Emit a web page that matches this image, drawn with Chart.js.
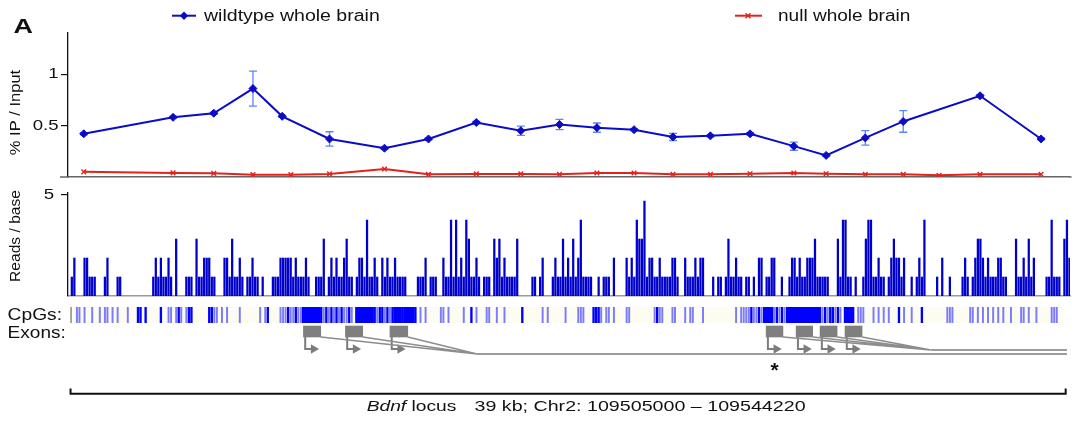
<!DOCTYPE html>
<html>
<head>
<meta charset="utf-8">
<script src="https://cdn.jsdelivr.net/npm/chart.js@4"></script>
<style>
  html, body { margin: 0; padding: 0; background: #fff; }
  #fig { position: relative; width: 1075px; height: 421px; overflow: hidden; background: #fff; }
  #fig canvas { position: absolute; left: 0; }
</style>
</head>
<body>
<div id="fig">
  <canvas id="ip" width="1075" height="185" style="top:0"></canvas>
  <canvas id="reads" width="1075" height="115" style="top:185px"></canvas>
  <canvas id="cpg" width="1075" height="30" style="top:300px"></canvas>
  <canvas id="gene" width="1075" height="103" style="top:318px"></canvas>
</div>
<script>
// positions are kb from the left edge of the plotted window (Bdnf locus, Chr2)
const wtPosKb   = [0.62, 4.13, 5.73, 7.27, 8.42, 10.28, 12.44, 14.17, 16.05, 17.80, 19.32, 20.79, 22.25, 23.78, 25.25, 26.81, 28.53, 29.80, 31.34, 32.83, 35.85, 38.25];
const wtIP      = [0.42, 0.58, 0.62, 0.86, 0.59, 0.37, 0.28, 0.37, 0.53, 0.45, 0.51, 0.48, 0.46, 0.39, 0.40, 0.42, 0.30, 0.21, 0.38, 0.54, 0.79, 0.37];
const wtErr     = [0.01, 0.01, 0.01, 0.17, 0.01, 0.07, 0.01, 0.01, 0.01, 0.045, 0.05, 0.045, 0.01, 0.035, 0.01, 0.01, 0.04, 0.01, 0.07, 0.105, 0.01, 0.01];
const nullPosKb = [0.62, 4.13, 5.73, 7.27, 8.76, 10.28, 12.44, 14.17, 16.05, 17.80, 19.32, 20.79, 22.25, 23.78, 25.25, 26.81, 28.53, 29.80, 31.34, 32.83, 34.24, 35.85, 38.25];
const nullIP    = [0.05, 0.04, 0.036, 0.023, 0.023, 0.03, 0.078, 0.026, 0.03, 0.03, 0.026, 0.039, 0.039, 0.026, 0.026, 0.032, 0.039, 0.032, 0.026, 0.026, 0.016, 0.026, 0.026];
const ipTicks   = [0.5, 1];

// read depth per 0.1 kb bin, in steps of one read level
const readsBinKb = 0.1;
const readsStep = 0.94;
const readsTicks = [5];
const readsProfile = [
  '0120002211', '1000120001', '1000000000', '0001212112', '1030001110',
  '3112221100', '0221311210', '1121101000', '1112222212', '1112100111',
  '3012121123', '1101221411', '2102121121', '1110000111', '2011100211',
  '4141214311', '2101110323', '1211113000', '0011012000', '1211312131',
  '2411110010', '1110200002', '1214335122', '1121111221', '0021112122',
  '0001011013', '1121101101', '0220112200', '1001221211', '2223111110',
  '0031441101', '0013441121', '1012322120', '0101214000', '0102001000',
  '0121012332', '1211122110', '0031121312', '0000114111', '0342'
].join('');

// CpG density per 0.1 kb bin: 0 none, 1 single, 2 a few, 3 dense
const cpgProfile = [
  '0001101001', '0010110101', '0001000220', '2000002001', '1012101220',
  '0000022110', '1010000100', '0000010120', '0001112112', '1133333332',
  '1212121211', '2103333333', '2122121233', '3233332010', '1000001101',
  '0000010020', '1000110010', '0100000020', '0000001010', '0000010000',
  '1110002221', '0110100001', '1000000000', '1211000110', '0010110001',
  '0000000000', '0010111121', '1212333121', '2123333333', '3333321212',
  '2121033320', '1110001010', '1010002010', '0100020000', '0000011100',
  '0000110101', '0101010100', '1000110100', '1000001110', '0000'
].join('');
const cpgSpanKb = [0.1, 39.1];

// exons and splice junctions
const exonStartKb = [9.25, 10.90, 12.65, 27.43, 28.61, 29.55, 30.53];
const exonEndKb   = [9.93, 11.58, 13.35, 28.09, 29.26, 30.22, 31.20];
const exonGroup   = [0, 0, 0, 1, 1, 1, 1];
const junctionKb  = [16.07, 33.90];
const transcriptEndKb = 39.25;
const starredExon = 3;
const locusKb = [0.1, 39.2];

// ---- styling ----
const FONT = "'Liberation Sans', Arial, Helvetica, sans-serif";
const X_MAX = 39.37;
const WT = '#0c0cc8';
const KO = '#e3221b';
const ERR = '#5b86f2';

Chart.defaults.font.family = FONT;
Chart.defaults.animation = false;
Chart.defaults.plugins.legend.display = false;
Chart.defaults.plugins.tooltip.enabled = false;
Chart.defaults.events = [];

function text(ctx, str, x, y, o) {
  ctx.save();
  ctx.font = (o.style || '') + ' ' + o.size + 'px ' + FONT;
  ctx.fillStyle = o.color || '#111';
  ctx.textBaseline = o.base || 'alphabetic';
  ctx.textAlign = o.align || 'left';
  ctx.translate(x, y);
  if (o.rot) ctx.rotate(o.rot);
  ctx.scale(o.sx || 1, 1);
  ctx.fillText(str, 0, 0);
  const w = ctx.measureText(str).width * (o.sx || 1);
  ctx.restore();
  return w;
}

function hiddenX() {
  return { type: 'linear', min: 0, max: X_MAX, offset: false, display: false };
}
function borderX(color) {
  return {
    type: 'linear', min: 0, max: X_MAX, offset: false,
    ticks: { display: false },
    grid: { drawOnChartArea: false, drawTicks: false, offset: false },
    border: { color: color, width: 1.5 },
    afterFit: s => { s.height = 0; }
  };
}
function tickedY(min, max, ticks) {
  return {
    min: min, max: max,
    afterBuildTicks: s => { s.ticks = ticks.map(v => ({ value: v })); },
    ticks: { display: false },
    grid: { drawOnChartArea: false, drawTicks: true, tickLength: 7, color: '#111', lineWidth: 1.2 },
    border: { color: '#111', width: 1.3 },
    afterFit: s => { s.width = 0; }
  };
}
function tickLabels(chart, right, sx) {
  const y = chart.scales.y;
  y.ticks.forEach(t => {
    text(chart.ctx, String(t.value), right, y.getPixelForValue(t.value), { size: 15, align: 'right', base: 'middle', sx: sx });
  });
}

// ---- top panel: % IP / Input ----
const ipDecor = {
  id: 'ipDecor',
  beforeDatasetsDraw(chart) {
    const { ctx, chartArea: a, scales: { x, y } } = chart;
    ctx.save();
    // baseline runs a little past both ends of the plot
    ctx.strokeStyle = '#666';
    ctx.lineWidth = 1.5;
    ctx.beginPath();
    ctx.moveTo(a.left - 8, a.bottom); ctx.lineTo(a.left, a.bottom);
    ctx.moveTo(a.right, a.bottom); ctx.lineTo(a.right + 2, a.bottom);
    ctx.stroke();
    ctx.strokeStyle = ERR;
    ctx.lineWidth = 1.3;
    wtPosKb.forEach((p, i) => {
      const px = x.getPixelForValue(p);
      const lo = y.getPixelForValue(wtIP[i] - wtErr[i]);
      const hi = y.getPixelForValue(wtIP[i] + wtErr[i]);
      ctx.beginPath();
      ctx.moveTo(px, lo); ctx.lineTo(px, hi);
      ctx.moveTo(px - 4, lo); ctx.lineTo(px + 4, lo);
      ctx.moveTo(px - 4, hi); ctx.lineTo(px + 4, hi);
      ctx.stroke();
    });
    ctx.restore();
  },
  afterDraw(chart) {
    const ctx = chart.ctx;
    tickLabels(chart, 58.5, 1.24);
    text(ctx, '% IP / Input', 15.5, 112.5, { size: 15, align: 'center', base: 'middle', rot: -Math.PI / 2, sx: 1.1 });
    text(ctx, 'A', 13.5, 33.3, { size: 21, style: 'bold', sx: 1.28 });

    // legend
    ctx.save();
    ctx.lineWidth = 2;
    ctx.strokeStyle = WT;
    ctx.beginPath(); ctx.moveTo(172, 15.7); ctx.lineTo(196, 15.7); ctx.stroke();
    ctx.fillStyle = WT;
    ctx.beginPath();
    ctx.moveTo(184, 11.5); ctx.lineTo(188.2, 15.7); ctx.lineTo(184, 19.9); ctx.lineTo(179.8, 15.7);
    ctx.closePath(); ctx.fill();
    ctx.strokeStyle = KO;
    ctx.beginPath(); ctx.moveTo(735, 15.7); ctx.lineTo(762, 15.7); ctx.stroke();
    ctx.lineWidth = 1.4;
    ctx.beginPath();
    ctx.moveTo(745.5, 13.2); ctx.lineTo(750.5, 18.2);
    ctx.moveTo(750.5, 13.2); ctx.lineTo(745.5, 18.2);
    ctx.stroke();
    ctx.restore();
    text(ctx, 'wildtype whole brain', 204, 21, { size: 16, sx: 1.22 });
    text(ctx, 'null whole brain', 778, 21, { size: 16, sx: 1.19 });
  }
};

new Chart(document.getElementById('ip'), {
  type: 'line',
  data: {
    datasets: [
      {
        label: 'null whole brain',
        data: nullPosKb.map((x, i) => ({ x: x, y: nullIP[i] })),
        borderColor: KO, borderWidth: 2,
        pointStyle: 'crossRot', pointRadius: 3.3, pointBorderWidth: 1.4,
        pointBorderColor: KO, pointBackgroundColor: KO
      },
      {
        label: 'wildtype whole brain',
        data: wtPosKb.map((x, i) => ({ x: x, y: wtIP[i] })),
        borderColor: WT, borderWidth: 2,
        pointStyle: 'rectRot', pointRadius: 4, pointBorderWidth: 1,
        pointBorderColor: WT, pointBackgroundColor: WT
      }
    ]
  },
  options: {
    responsive: false,
    layout: { padding: { left: 68, right: 5, top: 33, bottom: 8 } },
    scales: { x: borderX('#666'), y: tickedY(0, 1.4, ipTicks) }
  },
  plugins: [ipDecor]
});

// ---- read depth panel ----
const readBars = [];
readsProfile.split('').forEach((c, i) => {
  const level = Number(c);
  if (level > 0) readBars.push({ x: (i + 0.5) * readsBinKb, y: level * readsStep });
});

new Chart(document.getElementById('reads'), {
  type: 'bar',
  data: {
    datasets: [{
      data: readBars,
      backgroundColor: '#0000cc',
      barThickness: 1.6,
      borderWidth: 0
    }]
  },
  options: {
    responsive: false,
    layout: { padding: { left: 68, right: 5, top: 8, bottom: 4 } },
    scales: { x: borderX('#9a9a9a'), y: tickedY(0, 5.1, readsTicks) }
  },
  plugins: [{
    id: 'readsDecor',
    afterDraw(chart) {
      tickLabels(chart, 54, 1.24);
      text(chart.ctx, 'Reads / base', 15.8, 51, { size: 15, align: 'center', base: 'middle', rot: -Math.PI / 2, sx: 1.04 });
    }
  }]
});

// ---- CpG track ----
const cpgSets = [[], [], []];
cpgProfile.split('').forEach((c, i) => {
  const d = Number(c);
  if (d > 0) cpgSets[d - 1].push({ x: (i + 0.5) * readsBinKb, y: 1 });
});
const cpgStyle = [
  { color: '#7b7bff', thick: 1.3 },
  { color: '#0000ff', thick: 1.7 },
  { color: '#0000ff', thick: 2.8 }
];

new Chart(document.getElementById('cpg'), {
  type: 'bar',
  data: {
    datasets: cpgSets.map((d, k) => ({
      data: d,
      backgroundColor: cpgStyle[k].color,
      barThickness: cpgStyle[k].thick,
      grouped: false,
      borderWidth: 0
    }))
  },
  options: {
    responsive: false,
    layout: { padding: { left: 68, right: 5, top: 7, bottom: 7 } },
    scales: { x: hiddenX(), y: { min: 0, max: 1, display: false } }
  },
  plugins: [{
    id: 'cpgDecor',
    beforeDatasetsDraw(chart) {
      const { ctx, chartArea: a, scales: { x } } = chart;
      ctx.save();
      ctx.fillStyle = '#fcfcf1';
      const x0 = x.getPixelForValue(cpgSpanKb[0]);
      ctx.fillRect(x0, a.top, x.getPixelForValue(cpgSpanKb[1]) - x0, a.bottom - a.top);
      ctx.fillStyle = '#555';
      ctx.fillRect(x0, a.top, 1, a.bottom - a.top);
      ctx.restore();
    },
    afterDraw(chart) {
      text(chart.ctx, 'CpGs:', 7.6, 20, { size: 16, sx: 1.2 });
    }
  }]
});

// ---- gene model + locus bracket ----
const EXON_Y = 0.875, EXON_BOTTOM = 0.803, ARROW_Y = 0.645;
const JUNCTION_Y = [0.579, 0.632];
const BRACKET_Y = 0.057, BRACKET_TICK = 0.125;
const ARROW_IN_KB = 0.07, ARROW_LEN_KB = 0.40;

const exonBars = exonStartKb.map((s, i) => ({ x: [s, exonEndKb[i]], y: EXON_Y }));
const arrowPts = [], connectorPts = [];
exonStartKb.forEach((s, i) => {
  arrowPts.push({ x: s + ARROW_IN_KB, y: EXON_BOTTOM },
                { x: s + ARROW_IN_KB, y: ARROW_Y },
                { x: s + ARROW_LEN_KB, y: ARROW_Y, tip: true },
                { x: s, y: null });
  connectorPts.push({ x: exonEndKb[i], y: EXON_BOTTOM },
                    { x: junctionKb[exonGroup[i]], y: JUNCTION_Y[exonGroup[i]] },
                    { x: exonEndKb[i], y: null });
});
const transcriptPts = [
  { x: junctionKb[0], y: JUNCTION_Y[0] }, { x: transcriptEndKb, y: JUNCTION_Y[0] },
  { x: transcriptEndKb, y: null },
  { x: junctionKb[1], y: JUNCTION_Y[1] }, { x: transcriptEndKb, y: JUNCTION_Y[1] }
];
const bracketPts = [
  { x: locusKb[0], y: BRACKET_TICK }, { x: locusKb[0], y: BRACKET_Y },
  { x: locusKb[1], y: BRACKET_Y }, { x: locusKb[1], y: BRACKET_TICK }
];

new Chart(document.getElementById('gene'), {
  type: 'line',
  data: {
    datasets: [
      { data: transcriptPts, borderColor: '#9c9c9c', borderWidth: 2, pointRadius: 0 },
      { data: connectorPts, borderColor: '#8d8d8d', borderWidth: 1.6, pointRadius: 0 },
      {
        data: arrowPts, borderColor: '#7c7c7c', borderWidth: 2,
        pointStyle: 'triangle', pointRotation: 90,
        pointRadius: c => (c.raw && c.raw.tip ? 5.5 : 0),
        pointBackgroundColor: '#7c7c7c', pointBorderColor: '#7c7c7c', pointBorderWidth: 0
      },
      {
        type: 'bar', indexAxis: 'y', data: exonBars,
        backgroundColor: '#7f7f7f', barThickness: 11, borderWidth: 0
      },
      { data: bracketPts, borderColor: '#111', borderWidth: 2, pointRadius: 0 }
    ]
  },
  options: {
    responsive: false,
    layout: { padding: { left: 68, right: 5, top: 4, bottom: 23 } },
    scales: {
      x: hiddenX(),
      y: { type: 'linear', min: 0, max: 1, offset: false, display: false }
    }
  },
  plugins: [{
    id: 'geneDecor',
    afterDraw(chart) {
      const { ctx, scales: { x } } = chart;
      text(ctx, 'Exons:', 7.6, 20.3, { size: 16, sx: 1.19 });
      const sx = x.getPixelForValue((exonStartKb[starredExon] + exonEndKb[starredExon]) / 2);
      text(ctx, '*', sx, 58.5, { size: 21, style: 'bold', align: 'center' });
      let cx = 366.7;
      cx += text(ctx, 'Bdnf', cx, 93, { size: 15, style: 'italic', sx: 1.28 });
      text(ctx, ' locus', cx, 93, { size: 15, sx: 1.28 });
      text(ctx, '39 kb; Chr2: 109505000 \u2013 109544220', 474.5, 93, { size: 15, sx: 1.31 });
    }
  }]
});
</script>
</body>
</html>
